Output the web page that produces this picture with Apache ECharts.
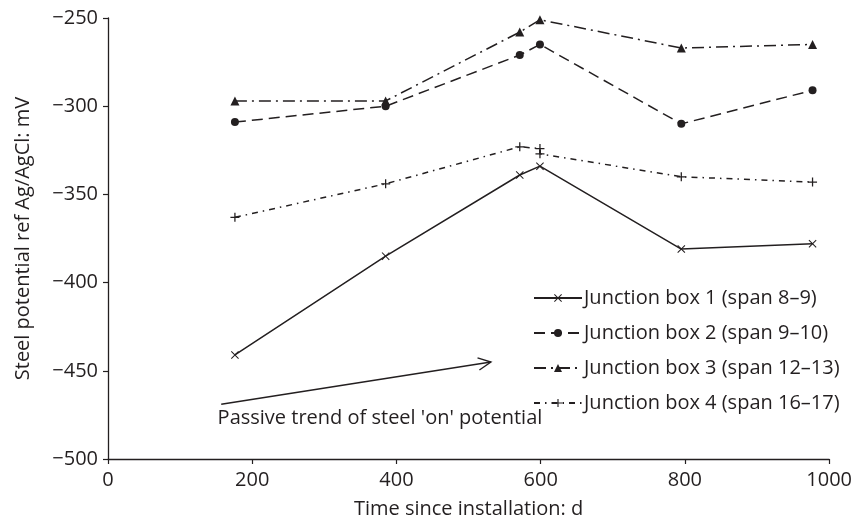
<!DOCTYPE html>
<html>
<head>
<meta charset="utf-8">
<script src="https://cdn.jsdelivr.net/npm/echarts@6/dist/echarts.min.js"></script>
<style>
html,body{margin:0;padding:0;background:#fff;}
#c{width:855px;height:528px;}
</style>
</head>
<body>
<div id="c"></div>
<script>
// ---- data ----
const seriesNames = [
  'Junction box 1 (span 8–9)',
  'Junction box 2 (span 9–10)',
  'Junction box 3 (span 12–13)',
  'Junction box 4 (span 16–17)'
];
const days1 = [176, 385, 571, 599, 795, 977];
const box1 = [-441, -385, -339, -334, -381, -378];
const days2 = [176, 385, 571, 599, 795, 977];
const box2 = [-309, -300, -271, -265, -310, -291];
const days3 = [176, 385, 571, 599, 795, 977];
const box3 = [-297, -297, -258, -251, -267, -265];
const days4 = [176, 385, 571, 599, 599, 795, 977];
const box4 = [-363, -344, -323, -324, -327, -340, -343];
const xTicks = [0, 200, 400, 600, 800, 1000];
const yTicks = [-500, -450, -400, -350, -300, -250];
const annotationText = "Passive trend of steel 'on' potential";
const arrowStart = [157, -469];
const arrowEnd = [531, -445];
const annotationPos = [152, -477];

const INK = '#231f20';
const FONT = '"Open Sans", "Noto Sans", sans-serif';
const FS = 20;
const symPlus = 'path://M4.3,0H5.7V4.3H10V5.7H5.7V10H4.3V5.7H0V4.3H4.3Z';
const symX = 'path://M0,0.9L0.9,0L5,4.1L9.1,0L10,0.9L5.9,5L10,9.1L9.1,10L5,5.9L0.9,10L0,9.1L4.1,5Z';

function pairs(xs, ys){ return xs.map((x,i)=>[x, ys[i]]); }

const chart = echarts.init(document.getElementById('c'), null, {renderer:'canvas'});
const baseSeries = (name, data, symbol, size, dash) => ({
  name, type:'line', data, symbol, symbolSize:size, showSymbol:true,
  lineStyle:{color:INK, width:1.5, type:dash},
  itemStyle:{color:INK, borderWidth:0},
  emphasis:{disabled:true}, animation:false, z:3
});

chart.setOption({
  animation:false,
  backgroundColor:'#fff',
  textStyle:{fontFamily:FONT, color:INK},
  grid:{left:108, right:25, top:18, bottom:69, containLabel:false},
  xAxis:{
    type:'value', min:0, max:1000, interval:200,
    name:'Time since installation: d', nameLocation:'middle', nameGap:40,
    nameTextStyle:{fontSize:FS, color:INK, fontFamily:FONT},
    axisLine:{show:true, lineStyle:{color:INK, width:1.3}},
    axisTick:{show:true, length:5, lineStyle:{color:INK, width:1.2}},
    axisLabel:{fontSize:FS, color:INK, fontFamily:FONT, margin:11,
      formatter:v=>String(v)},
    splitLine:{show:false}
  },
  yAxis:{
    type:'value', min:-500, max:-250, interval:50,
    name:'Steel potential ref Ag/AgCl: mV', nameLocation:'middle', nameGap:75,
    nameTextStyle:{fontSize:FS, color:INK, fontFamily:FONT},
    axisLine:{show:true, lineStyle:{color:INK, width:1.3}},
    axisTick:{show:true, length:5, lineStyle:{color:INK, width:1.2}},
    axisLabel:{fontSize:FS, color:INK, fontFamily:FONT, margin:10,
      formatter:v=>String(v).replace('-', '\u2212')},
    splitLine:{show:false}
  },
  legend:{
    orient:'vertical', left:528, top:281, itemGap:11, itemWidth:48, itemHeight:10,
    textStyle:{fontSize:FS, color:INK, fontFamily:FONT, padding:[0,0,0,-3], lineHeight:24},
    data:seriesNames
  },
  series:[
    baseSeries(seriesNames[0], pairs(days1, box1), symX, 8, 'solid'),
    baseSeries(seriesNames[1], pairs(days2, box2), 'circle', 8, [11,6]),
    baseSeries(seriesNames[2], pairs(days3, box3), 'triangle', 9, [12,5,2,5]),
    baseSeries(seriesNames[3], pairs(days4, box4), symPlus, 9, [6,5,1.5,5])
  ]
});

// annotation arrow + text placed in data coordinates
const p0 = chart.convertToPixel({gridIndex:0}, arrowStart);
const p1 = chart.convertToPixel({gridIndex:0}, arrowEnd);
const pt = chart.convertToPixel({gridIndex:0}, annotationPos);
const ang = Math.atan2(p1[1]-p0[1], p1[0]-p0[0]);
const L = 14, A = 0.45;
const h1 = [p1[0]-L*Math.cos(ang-A), p1[1]-L*Math.sin(ang-A)];
const h2 = [p1[0]-L*Math.cos(ang+A), p1[1]-L*Math.sin(ang+A)];
chart.setOption({
  graphic:[
    {type:'line', shape:{x1:p0[0], y1:p0[1], x2:p1[0], y2:p1[1]}, style:{stroke:INK, lineWidth:1.4}},
    {type:'polyline', shape:{points:[h1, p1, h2]}, style:{stroke:INK, lineWidth:1.4, fill:null}},
    {type:'text', x:pt[0], y:pt[1], style:{text:annotationText, font:FS+'px "Open Sans", "Noto Sans", sans-serif', fill:INK, textVerticalAlign:'middle', verticalAlign:'middle'}}
  ]
});
</script>
</body>
</html>
